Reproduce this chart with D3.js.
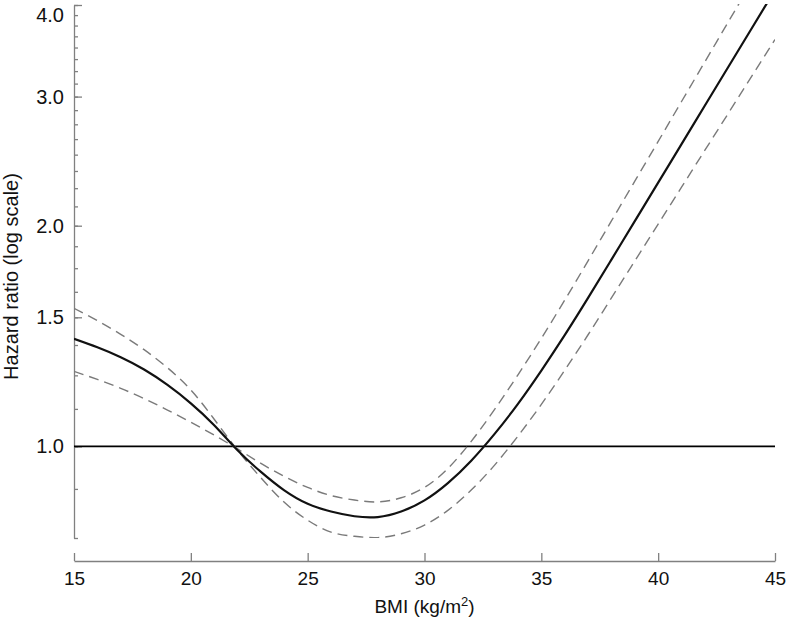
<!DOCTYPE html>
<html lang="en">
<head>
<meta charset="utf-8">
<title>BMI - hazard ratio spline</title>
<script type="text/javascript" src="https://cdnjs.cloudflare.com/ajax/libs/d3/7.8.5/d3.min.js"></script>
<style>

body {
  margin: 0;
  background-color: #fff;
}

text {
  font-family: "Liberation Sans", Arial, sans-serif;
  fill: #111;
}

.axis path,
.axis line {
  stroke: #808080;
  stroke-width: 1.3;
  fill: none;
}

.axis text {
  font-size: 19px;
}

.axis.y text {
  font-size: 20px;
}

.ref {
  stroke: #000;
  stroke-width: 1.6;
}

.estimate {
  fill: none;
  stroke: #111;
  stroke-width: 2.2;
}

.ci {
  fill: none;
  stroke: #7a7a7a;
  stroke-width: 1.4;
  stroke-dasharray: 10, 6;
}

</style>
</head>
<body>

<div id="chart"></div>

<script type="text/javascript">

// BMI grid the curves were read at
var bmi = [15, 16, 17, 18, 19, 20, 21, 22, 23, 24, 25, 26, 27, 28, 29, 30,
           31, 32, 33, 34, 35, 36, 37, 38, 39, 40, 41, 42, 43, 44, 45];

// fitted hazard ratio
var hazard = [1.402, 1.365, 1.323, 1.273, 1.213, 1.145, 1.069, 0.988, 0.923, 0.871, 0.835,
              0.815, 0.803, 0.801, 0.815, 0.844, 0.891, 0.956, 1.040, 1.143, 1.269,
              1.418, 1.594, 1.798, 2.029, 2.290, 2.584, 2.917, 3.292, 3.715, 4.193];

// confidence limits, crossing at the pinch near BMI 22
// ciA: upper on the left, lower on the right
var ciA = [1.543, 1.484, 1.422, 1.355, 1.280, 1.194, 1.089, 0.988, 0.906, 0.839, 0.793,
           0.764, 0.754, 0.751, 0.760, 0.781, 0.818, 0.872, 0.943, 1.033, 1.141,
           1.270, 1.420, 1.594, 1.790, 2.010, 2.257, 2.535, 2.846, 3.196, 3.589];
// ciB: lower on the left, upper on the right
var ciB = [1.266, 1.234, 1.200, 1.162, 1.121, 1.079, 1.036, 0.992, 0.948, 0.910, 0.879,
           0.857, 0.845, 0.840, 0.851, 0.879, 0.933, 1.016, 1.123, 1.252, 1.404,
           1.583, 1.791, 2.030, 2.300, 2.606, 2.954, 3.347, 3.793, 4.297, 4.869];

var xTicks = [15, 20, 25, 30, 35, 40, 45];
var yTicks = [1.0, 1.5, 2.0, 3.0, 4.0];
var yMinor = d3.range(0.75, 4.001, 0.125);

var margin = {top: 5, right: 13, bottom: 85, left: 74},
    width = 788 - margin.left - margin.right,
    height = 623 - margin.top - margin.bottom;

var svg = d3.select("#chart").append("svg")
    .attr("width", 788)
    .attr("height", 623);

var root = svg.append("g")
    .attr("transform", "translate(" + margin.left + "," + margin.top + ")");

var xScale = d3.scaleLinear().domain([15, 45]).range([0, width]);
var yScale = d3.scaleLog().domain([0.75, 4.0]).range([height, 0]);

svg.append("defs").append("clipPath")
    .attr("id", "plotclip")
    .append("rect")
        .attr("x", 0)
        .attr("y", -1)
        .attr("width", width)
        .attr("height", height + 1);

// y axis: minor ticks first, then labelled ones, both pointing inward
root.append("g")
    .attr("class", "axis")
    .call(d3.axisLeft(yScale)
        .tickValues(yMinor)
        .tickSizeInner(-4)
        .tickSizeOuter(0)
        .tickFormat(""));

var yAxis = root.append("g")
    .attr("class", "axis y")
    .call(d3.axisLeft(yScale)
        .tickValues(yTicks)
        .tickSizeInner(-8)
        .tickSizeOuter(0)
        .tickPadding(10)
        .tickFormat(d3.format(".1f")));

yAxis.select(".domain").remove();
// top label sits below its tick so it is not cut off
yAxis.selectAll(".tick text")
    .filter(function(d) { return d === 4.0; })
    .attr("dy", "0.8em");

// x axis sits a little below the plot
var xAxis = root.append("g")
    .attr("class", "axis")
    .attr("transform", "translate(0," + (height + 23) + ")")
    .call(d3.axisBottom(xScale)
        .tickValues(xTicks)
        .tickSizeInner(-8)
        .tickSizeOuter(0)
        .tickPadding(11)
        .tickFormat(d3.format("d")));

var plot = root.append("g")
    .attr("clip-path", "url(#plotclip)");

plot.append("line")
    .attr("class", "ref")
    .attr("x1", xScale(15))
    .attr("x2", xScale(45))
    .attr("y1", yScale(1))
    .attr("y2", yScale(1));

var line = d3.line()
    .x(function(d, i) { return xScale(bmi[i]); })
    .y(function(d) { return yScale(d); })
    .curve(d3.curveNatural);

plot.append("path").attr("class", "ci").attr("d", line(ciA));
plot.append("path").attr("class", "ci").attr("d", line(ciB));
plot.append("path").attr("class", "estimate").attr("d", line(hazard));

// axis titles
root.append("text")
    .attr("transform", "translate(" + (18 - margin.left) + "," + (height / 2 + 5) + ") rotate(-90)")
    .style("text-anchor", "middle")
    .style("font-size", "20px")
    .text("Hazard  ratio (log scale)");

var xTitle = root.append("text")
    .attr("x", width / 2)
    .attr("y", height + 75)
    .style("text-anchor", "middle")
    .style("font-size", "19px");

xTitle.append("tspan").text("BMI  (kg/m");
xTitle.append("tspan").attr("dy", -7).style("font-size", "13px").text("2");
xTitle.append("tspan").attr("dy", 7).text(")");

</script>

</body>
</html>
